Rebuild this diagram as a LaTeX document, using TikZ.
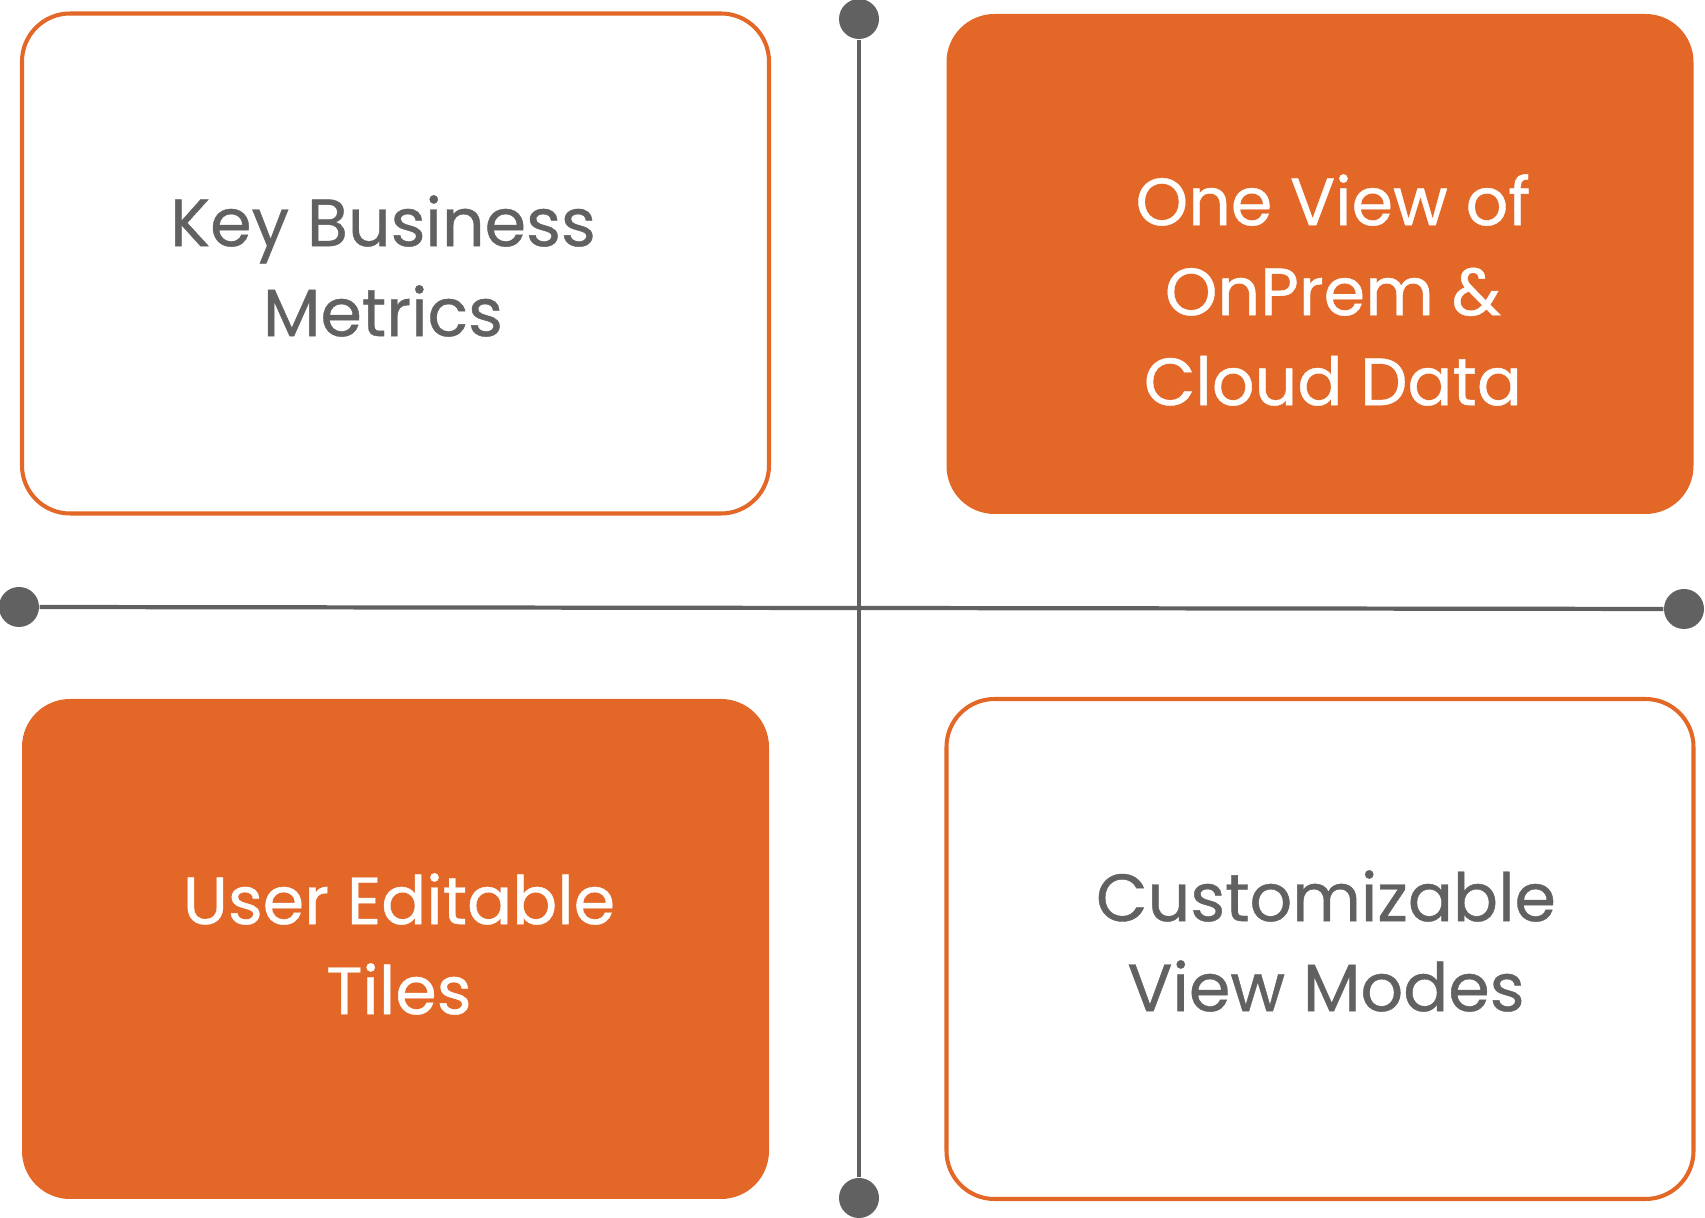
\documentclass[tikz,border=0pt]{standalone}
\usepackage{xcolor}
\usepackage{fontspec}
\setmainfont{Poppins}[FakeBold=0.6]
\usepackage{tikz}
\usetikzlibrary{positioning}
\definecolor{quadorange}{HTML}{E36726}
\definecolor{quadgray}{HTML}{616161}

\begin{document}
\begin{tikzpicture}[
  font=\fontsize{19}{25.6}\selectfont,
  tile/.style={rounded corners=0.48cm, minimum width=7.47cm, minimum height=5.0cm, inner sep=0pt},
  open/.style={tile, draw=quadorange, line width=1.15pt, fill=white},
  solid/.style={tile, fill=quadorange},
  lbl/.style={align=center, inner sep=0pt, text=#1},
  lbl/.default=quadgray,
  dot/.style={circle, fill=quadgray, minimum size=0.4cm, inner sep=0pt},
  axis/.style={draw=quadgray, line width=1.2pt},
]
\useasboundingbox (0,0) rectangle (17.05,12.18);
\node[open] (kbm) at (3.955,9.545) {};
\node[solid] (ovd) at (13.2,9.54) {};
\node[solid] (uet) at (3.955,2.69) {};
\node[open] (cvm) at (13.2,2.69) {};
\node[lbl] at (3.83,9.52) {Key Business\\Metrics};
\node[lbl=white] at (13.33,9.28) {One View of\\OnPrem \&\\Cloud Data};
\node[lbl=white] at (3.99,2.74) {User Editable\\Tiles};
\node[lbl] at (13.26,2.77) {Customizable\\View Modes};
\node[dot] (dtop) at (8.59,11.99) {};
\node[dot] (dbot) at (8.59,0.2) {};
\node[dot] (dleft) at (0.19,6.11) {};
\node[dot] (dright) at (16.84,6.09) {};
\draw[axis] (dtop) -- (dbot);
\draw[axis] (dleft) -- (dright);
\end{tikzpicture}
\end{document}
